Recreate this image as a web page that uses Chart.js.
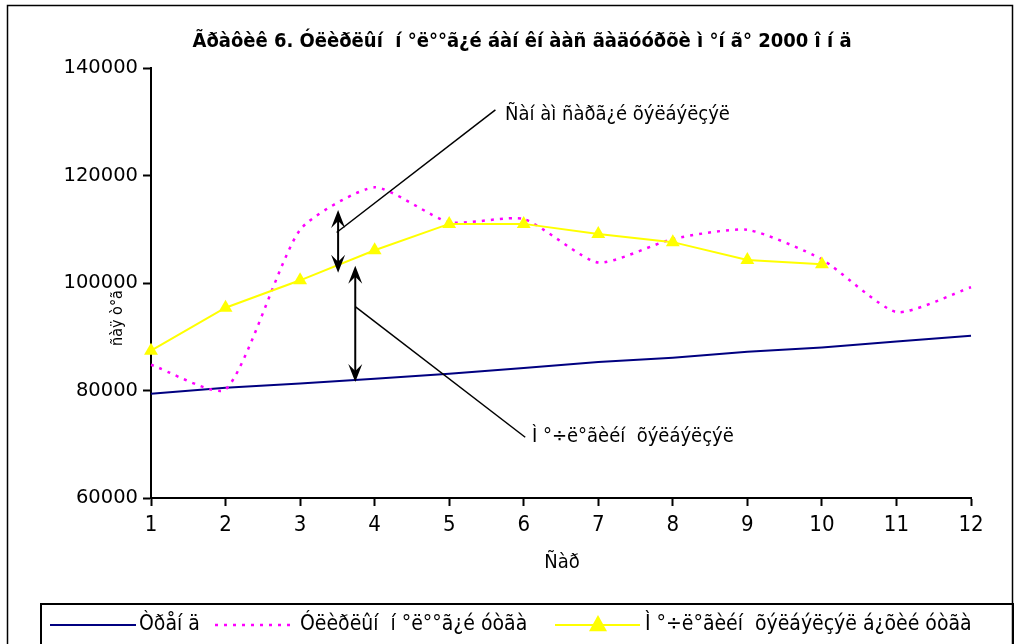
<!DOCTYPE html>
<html>
<head>
<meta charset="utf-8">
<script src="https://cdn.jsdelivr.net/npm/chart.js@4.4.0/dist/chart.umd.min.js"></script>
<style>
html, body { margin: 0; padding: 0; background: #fff; }
</style>
</head>
<body>
<canvas id="myChart" width="1019" height="644"></canvas>
<script>
const months = ['1', '2', '3', '4', '5', '6', '7', '8', '9', '10', '11', '12'];
const trend = [79400, 80500, 81300, 82200, 83100, 84200, 85300, 86100, 87200, 88000, 89100, 90200];
const adjusted = [84800, 80200, 109900, 117800, 111300, 111900, 103800, 108200, 109900, 104400, 94600, 99200];
const cyclical = [87400, 95400, 100500, 106100, 111000, 111000, 109100, 107600, 104300, 103500, null, null];
const seriesNames = ['Òðåí ä', 'Óëèðëûí  í °ë°°ã¿é óòãà', 'Ì °÷ë°ãèéí  õýëáýëçýë á¿õèé óòãà'];
const yMin = 60000, yMax = 140000, yStep = 20000;

const titleText = 'Ãðàôèê 6. Óëèðëûí  í °ë°°ã¿é áàí êí ààñ ãàäóóðõè ì °í ã° 2000 î í ä';
const xTitle = 'Ñàð';
const yTitle = 'ñàÿ ò°ã';

// annotation arrows, in data units (x = category index)
const arrows = [
    {x: 2.51, from: 113600, to: 101900},
    {x: 2.74, from: 103200, to: 81600}
];
const leaders = [
    {x1: 2.49, y1: 109400, x2: 4.62, y2: 132200},
    {x1: 2.74, y1: 95600, x2: 5.02, y2: 71300}
];
const notes = [
    {x: 4.75, y: 131300, text: 'Ñàí àì ñàðã¿é õýëáýëçýë'},
    {x: 5.11, y: 71300, text: 'Ì °÷ë°ãèéí  õýëáýëçýë'}
];

const NAVY = '#000080', MAGENTA = '#FF00FF', YELLOW = '#FFFF00';
const FONT = '"DejaVu Sans Condensed", "DejaVu Sans", sans-serif';
const NARROW = '"Liberation Sans Narrow", "DejaVu Sans Condensed", sans-serif';

function triangle(ctx, x, y, r) {
    ctx.beginPath();
    ctx.moveTo(x, y - r);
    ctx.lineTo(x + r, y + r * 0.8);
    ctx.lineTo(x - r, y + r * 0.8);
    ctx.closePath();
    ctx.fill();
}

function arrowHead(ctx, x, y, dir) {
    // dir: -1 points up, 1 points down
    ctx.beginPath();
    ctx.moveTo(x, y);
    ctx.lineTo(x + 7, y - dir * 18);
    ctx.lineTo(x, y - dir * 11);
    ctx.lineTo(x - 7, y - dir * 18);
    ctx.closePath();
    ctx.fill();
}

const decor = {
    id: 'decor',
    beforeDraw(chart) {
        const c = chart.ctx;
        c.save();
        c.fillStyle = '#fff';
        c.fillRect(0, 0, chart.width, chart.height);
        c.strokeStyle = '#000';
        c.lineWidth = 1.5;
        c.strokeRect(7.5, 5.5, 1005, 660);
        c.restore();
    },
    afterDatasetsDraw(chart) {
        const c = chart.ctx, xs = chart.scales.x, ys = chart.scales.y;
        c.save();
        c.strokeStyle = '#000';
        c.fillStyle = '#000';
        c.lineWidth = 1.5;
        leaders.forEach(l => {
            c.beginPath();
            c.moveTo(xs.getPixelForValue(l.x1), ys.getPixelForValue(l.y1));
            c.lineTo(xs.getPixelForValue(l.x2), ys.getPixelForValue(l.y2));
            c.stroke();
        });
        c.lineWidth = 2;
        arrows.forEach(a => {
            const x = xs.getPixelForValue(a.x);
            const y1 = ys.getPixelForValue(a.from), y2 = ys.getPixelForValue(a.to);
            c.beginPath();
            c.moveTo(x, y1 + 10);
            c.lineTo(x, y2 - 10);
            c.stroke();
            arrowHead(c, x, y1, -1);
            arrowHead(c, x, y2, 1);
        });
        c.font = '20px ' + FONT;
        c.textBaseline = 'middle';
        c.textAlign = 'left';
        notes.forEach(n => {
            c.fillText(n.text, xs.getPixelForValue(n.x), ys.getPixelForValue(n.y));
        });
        c.restore();
    },
    afterDraw(chart) {
        const c = chart.ctx;
        c.save();
        c.fillStyle = '#000';
        c.textBaseline = 'middle';
        // title
        c.font = 'bold 20px ' + FONT;
        c.textAlign = 'center';
        c.fillText(titleText, 522, 42);
        // axis titles
        c.font = '20px ' + FONT;
        c.fillText(xTitle, 562, 563);
        c.save();
        c.translate(118, 318);
        c.rotate(-Math.PI / 2);
        c.font = '16px ' + FONT;
        c.fillText(yTitle, 0, 0);
        c.restore();
        // legend
        c.strokeStyle = '#000';
        c.lineWidth = 2;
        c.strokeRect(41, 604, 972, 50);
        const ly = 625;
        c.lineWidth = 2;
        c.strokeStyle = NAVY;
        c.beginPath(); c.moveTo(50, ly); c.lineTo(136, ly); c.stroke();
        c.strokeStyle = MAGENTA;
        c.lineWidth = 2.5;
        c.setLineDash([3, 6]);
        c.beginPath(); c.moveTo(215, ly); c.lineTo(290, ly); c.stroke();
        c.setLineDash([]);
        c.strokeStyle = YELLOW;
        c.fillStyle = YELLOW;
        c.lineWidth = 2;
        c.beginPath(); c.moveTo(555, ly); c.lineTo(640, ly); c.stroke();
        triangle(c, 598, ly - 1, 9);
        c.fillStyle = '#000';
        c.font = '21px ' + FONT;
        c.textAlign = 'left';
        c.fillText(seriesNames[0], 139, ly);
        c.fillText(seriesNames[1], 300, ly);
        c.fillText(seriesNames[2], 645, ly);
        c.restore();
    }
};

const ctx = document.getElementById('myChart').getContext('2d');
const myChart = new Chart(ctx, {
    type: 'line',
    data: {
        labels: months,
        datasets: [{
            label: seriesNames[0],
            data: trend,
            borderColor: NAVY,
            borderWidth: 2,
            pointRadius: 0,
            tension: 0,
            order: 2
        }, {
            label: seriesNames[1],
            data: adjusted,
            borderColor: MAGENTA,
            borderWidth: 2.5,
            borderDash: [3, 6],
            pointRadius: 0,
            tension: 0.2,
            order: 1
        }, {
            label: seriesNames[2],
            data: cyclical,
            borderColor: YELLOW,
            backgroundColor: YELLOW,
            borderWidth: 2,
            pointStyle: 'triangle',
            pointRadius: 8,
            pointBorderWidth: 0,
            tension: 0,
            order: 0
        }]
    },
    options: {
        responsive: false,
        animation: false,
        layout: {padding: {top: 68, right: 48, left: 0, bottom: 0}},
        plugins: {
            legend: {display: false},
            title: {display: false},
            tooltip: {enabled: false}
        },
        scales: {
            x: {
                offset: false,
                afterFit(scale) { scale.height = 146; },
                grid: {drawOnChartArea: false, color: '#000', tickLength: 8, tickWidth: 2},
                border: {color: '#000', width: 2},
                ticks: {color: '#000', padding: 6, maxRotation: 0, autoSkip: false,
                        font: {family: NARROW, size: 22}}
            },
            y: {
                min: yMin,
                max: yMax,
                afterFit(scale) { scale.width = 151; },
                grid: {drawOnChartArea: false, color: '#000', tickLength: 8, tickWidth: 2},
                border: {color: '#000', width: 2},
                ticks: {stepSize: yStep, color: '#000', padding: 5,
                        font: {family: '"DejaVu Sans", sans-serif', size: 19.5},
                        callback: v => String(v)}
            }
        }
    },
    plugins: [decor]
});
</script>
</body>
</html>
